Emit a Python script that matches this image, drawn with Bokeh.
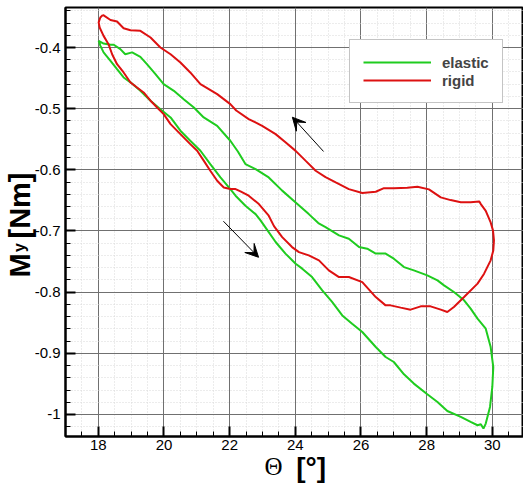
from bokeh.plotting import figure
from bokeh.models import (FixedTicker, CustomJSTickFormatter, LinearAxis, Arrow,
                          VeeHead, Range1d)
from bokeh.embed import file_html
from bokeh.resources import INLINE

# ---------------- data ----------------
elastic_theta = [18.01, 18.16, 18.37, 18.47, 18.67, 18.82, 19.03, 19.28, 19.48, 19.74,
                 19.99, 20.30, 20.60, 20.91, 21.21, 21.62, 22.02, 22.25, 22.48, 22.79,
                 23.19, 23.60, 24.01, 24.41, 24.70, 24.92, 25.33, 25.63, 25.94, 26.19,
                 26.45, 26.75, 27.00, 27.31, 27.61, 28.02, 28.33, 28.53, 28.83, 29.14,
                 29.34, 29.55, 29.80, 29.95, 30.03, 30.00, 29.93, 29.80, 29.73, 29.65,
                 29.55, 29.34, 29.04, 28.63, 28.33, 28.02, 27.61, 27.31, 27.00, 26.75,
                 26.45, 26.04, 25.73, 25.43, 25.12, 24.82, 24.51, 24.21, 24.01, 23.70,
                 23.40, 23.19, 22.94, 22.79, 22.48, 22.33, 22.18, 22.02, 21.72, 21.41,
                 21.11, 20.80, 20.50, 20.20, 19.89, 19.59, 19.28, 18.98, 18.77, 18.57,
                 18.37, 18.16, 18.06, 18.01]
elastic_my = [-0.389, -0.3935, -0.3955, -0.3955, -0.4027, -0.411, -0.408, -0.4152, -0.4273, -0.4436,
              -0.460, -0.4708, -0.4845, -0.498, -0.5144, -0.528, -0.5525, -0.570, -0.5906, -0.5988,
              -0.6124, -0.634, -0.6533, -0.6724, -0.687, -0.6936, -0.7072, -0.7126, -0.7263, -0.729,
              -0.737, -0.737, -0.7453, -0.759, -0.7644, -0.7725, -0.7807, -0.7889, -0.7998, -0.8134,
              -0.827, -0.8433, -0.8597, -0.8897, -0.9224, -0.955, -0.9877, -1.0149, -1.023, -1.016,
              -1.0176, -1.0122, -1.004, -0.9943, -0.9796, -0.967, -0.9495, -0.9343, -0.9142, -0.906,
              -0.8897, -0.8652, -0.8515, -0.838, -0.816, -0.797, -0.7753, -0.7616, -0.7535, -0.737,
              -0.718, -0.7018, -0.6827, -0.6724, -0.6587, -0.6505, -0.6423, -0.6315, -0.6124, -0.5906,
              -0.5688, -0.5525, -0.536, -0.5144, -0.5008, -0.487, -0.4708, -0.457, -0.449, -0.4355,
              -0.4218, -0.408, -0.397, -0.389]

rigid_theta = [18.14, 18.06, 18.01, 18.04, 18.16, 18.31, 18.42, 18.57, 18.77, 18.98,
               19.18, 19.38, 19.59, 19.79, 19.99, 20.20, 20.50, 20.80, 21.01, 21.21,
               21.41, 21.62, 21.82, 22.02, 22.18, 22.33, 22.58, 22.89, 23.19, 23.35,
               23.60, 23.90, 24.11, 24.41, 24.72, 25.02, 25.33, 25.63, 26.04, 26.45,
               26.75, 26.90, 27.21, 27.51, 27.82, 28.12, 28.43, 28.63, 28.83, 29.14,
               29.55, 29.75, 29.95, 30.03, 30.05, 30.02, 29.95, 29.80, 29.65, 29.60,
               29.34, 29.04, 28.73, 28.43, 28.07, 27.72, 27.41, 27.00, 26.70, 26.45,
               26.04, 25.63, 25.23, 24.92, 24.62, 24.31, 24.01, 23.70, 23.40, 22.99,
               22.58, 22.20, 22.02, 21.62, 21.11, 20.80, 20.50, 20.20, 19.89, 19.59,
               19.28, 18.98, 18.77, 18.57, 18.37, 18.14]
rigid_my = [-0.3466, -0.351, -0.359, -0.3673, -0.381, -0.3946, -0.411, -0.4273, -0.4408, -0.4572,
            -0.4654, -0.4735, -0.487, -0.498, -0.509, -0.5253, -0.5416, -0.558, -0.5688, -0.585,
            -0.6015, -0.6178, -0.6288, -0.6315, -0.6315, -0.6353, -0.6423, -0.656, -0.675, -0.692,
            -0.710, -0.7263, -0.7345, -0.7399, -0.748, -0.7644, -0.7753, -0.7753, -0.7835, -0.808,
            -0.8216, -0.8216, -0.8253, -0.8286, -0.8232, -0.8232, -0.8286, -0.8325, -0.8243, -0.808,
            -0.786, -0.7698, -0.748, -0.7317, -0.7154, -0.699, -0.686, -0.667, -0.656, -0.6516,
            -0.653, -0.653, -0.6495, -0.645, -0.632, -0.6277, -0.6293, -0.630, -0.630, -0.6358,
            -0.638, -0.6315, -0.6206, -0.612, -0.6015, -0.585, -0.569, -0.555, -0.5416, -0.528,
            -0.517, -0.503, -0.4926, -0.4763, -0.460, -0.4408, -0.4245, -0.411, -0.400, -0.3837,
            -0.3727, -0.3718, -0.3685, -0.3575, -0.355, -0.3466]

x_ticks = [18, 20, 22, 24, 26, 28, 30]
x_minor = [17 + 0.5 * i for i in range(29)]
y_ticks = [-1.0, -0.9, -0.8, -0.7, -0.6, -0.5, -0.4]
y_minor = [round(-1.04 + 0.02 * i, 2) for i in range(36)]

series_names = ["elastic", "rigid"]
series_colors = ["#1fcc1f", "#dd1111"]

# axis title pieces: text and the axis value at which each piece is centred
ytitle_main = ["M", "[Nm]"]
ytitle_main_at = [-0.7564, -0.6583]
ytitle_sub = "y"
ytitle_sub_at = -0.727
xtitle_sym = "Θ"
xtitle_sym_at = 23.34
xtitle_unit = "[°]"
xtitle_unit_at = 24.48

# arrows (tail -> head), data coordinates
arrow_up = (24.86, -0.570, 23.91, -0.514)
arrow_down = (21.81, -0.684, 22.88, -0.743)

FONT = "Liberation Sans"

p = figure(width=523, height=486, output_backend="svg", toolbar_location=None,
           x_range=Range1d(17, 30.95), y_range=Range1d(-1.036, -0.3346),
           min_border_left=65, min_border_right=0, min_border_top=7,
           min_border_bottom=50, background_fill_color="white",
           border_fill_color="white")

p.outline_line_color = "black"
p.outline_line_width = 2

p.xaxis.ticker = FixedTicker(ticks=x_ticks, minor_ticks=x_minor)
p.yaxis.ticker = FixedTicker(ticks=y_ticks, minor_ticks=y_minor)
p.yaxis.formatter = CustomJSTickFormatter(code="return String(Math.round(tick*10)/10)")

for ax in (p.xaxis, p.yaxis):
    ax.axis_line_width = 2
    ax.axis_line_color = "black"
    ax.major_tick_in = 10
    ax.major_tick_out = 0
    ax.minor_tick_in = 5
    ax.minor_tick_out = 0
    ax.major_tick_line_width = 2
    ax.minor_tick_line_width = 1
    ax.major_tick_line_color = "black"
    ax.minor_tick_line_color = "black"
    ax.major_label_text_font = FONT
    ax.major_label_text_font_size = "15px"
    ax.major_label_text_color = "black"
p.xaxis.major_label_standoff = 3
p.yaxis.major_label_standoff = 5

for g in (p.xgrid, p.ygrid):
    g.grid_line_color = "#707070"
    g.grid_line_width = 1
    g.minor_grid_line_color = "#d9d9d9"
    g.minor_grid_line_dash = "1 2"
    g.minor_grid_line_width = 1

p.line(elastic_theta, elastic_my, line_color=series_colors[0], line_width=2,
       legend_label=series_names[0])
p.line(rigid_theta, rigid_my, line_color=series_colors[1], line_width=2,
       legend_label=series_names[1])

for (x0, y0, x1, y1) in (arrow_up, arrow_down):
    p.add_layout(Arrow(x_start=x0, y_start=y0, x_end=x1, y_end=y1,
                       line_color="black", line_width=1,
                       end=VeeHead(size=13, fill_color="black", line_color="black")))

lg = p.legend[0]
lg.location = (284, 333)
lg.padding = 13
lg.margin = 0
lg.spacing = 0
lg.glyph_width = 68
lg.glyph_height = 18
lg.label_height = 18
lg.label_standoff = 11
lg.label_text_font = FONT
lg.label_text_font_size = "15px"
lg.label_text_font_style = "bold"
lg.border_line_color = "#8a8a8a"
lg.border_line_width = 1
lg.background_fill_color = "white"
lg.background_fill_alpha = 1.0


def title_axis(ticks, code, size, font, style, standoff, orientation):
    ax = LinearAxis(ticker=FixedTicker(ticks=ticks, minor_ticks=[]),
                    formatter=CustomJSTickFormatter(code=code))
    ax.axis_line_color = None
    ax.major_tick_line_color = None
    ax.minor_tick_line_color = None
    ax.major_tick_in = 0
    ax.major_tick_out = 0
    ax.minor_tick_in = 0
    ax.minor_tick_out = 0
    ax.major_label_text_font = font
    ax.major_label_text_font_size = size
    ax.major_label_text_font_style = style
    ax.major_label_text_color = "black"
    ax.major_label_standoff = standoff
    ax.major_label_orientation = orientation
    return ax


# y title: subscript first (closer to the frame), then "M" and "[Nm]"
ax_sub = title_axis([ytitle_sub_at], 'return "%s"' % ytitle_sub, "16px", FONT, "bold",
                    3, "vertical")
ax_main = title_axis(ytitle_main_at,
                     'return tick < %r ? "%s" : "%s"' % ((ytitle_main_at[0] + ytitle_main_at[1]) / 2,
                                                        ytitle_main[0], ytitle_main[1]),
                     "29px", FONT, "bold", -28, "vertical")
p.add_layout(ax_sub, "left")
p.add_layout(ax_main, "left")

# x title: symbol then unit
ax_sym = title_axis([xtitle_sym_at], 'return "%s"' % xtitle_sym, "25px", "Liberation Serif",
                    "normal", 0, "horizontal")
ax_unit = title_axis([xtitle_unit_at], 'return "%s"' % xtitle_unit, "28px", FONT, "bold",
                     -31, "horizontal")
p.add_layout(ax_sym, "below")
p.add_layout(ax_unit, "below")

open("out.html", "w").write(file_html(p, INLINE))
